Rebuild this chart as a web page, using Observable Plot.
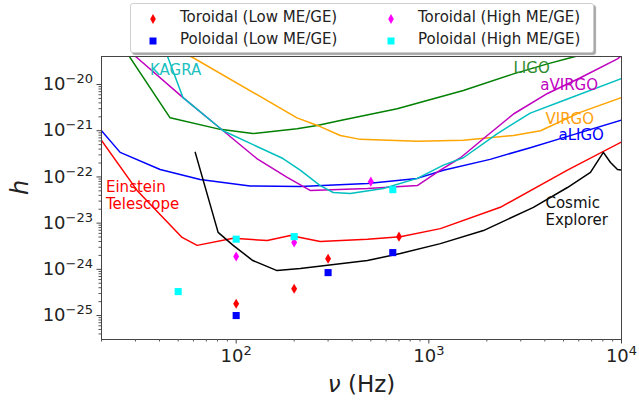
<!DOCTYPE html>
<html><head><meta charset="utf-8">
<script src="https://cdn.jsdelivr.net/npm/d3@7"></script>
<script src="https://cdn.jsdelivr.net/npm/@observablehq/plot@0.6"></script>
<style>
body{margin:0;background:#fff;font-family:"DejaVu Sans",sans-serif;}
#wrap{position:relative;width:639px;height:403px;overflow:hidden;}
#legend{position:absolute;left:130px;top:3px;width:464px;height:50px;box-sizing:border-box;border:1px solid #cfcfcf;border-radius:3px;background:#fff;box-shadow:2px 2px 1px rgba(0,0,0,0.35);font-size:15px;color:#222;z-index:2;}
.mk{position:absolute;width:12px;height:12px;}
.lt{position:absolute;white-space:nowrap;line-height:18px;}
</style></head><body><div id="wrap"><div id="chart"></div><div id="legend"></div></div>
<script>
// ---- detector sensitivity curves (frequency Hz, strain h) ----
const ligoFreq = [26.8, 45.4, 82.6, 122, 207, 263, 347, 685, 1510, 2750, 4130, 5430, 6900];
const ligoH    = [5.2e-20, 1.9e-21, 1.07e-21, 8.7e-22, 1.1e-21, 1.3e-21, 1.66e-21, 3.0e-21, 7.4e-21, 1.7e-20, 2.8e-20, 3.8e-20, 4.9e-20];

const aligoFreq = [20, 25, 40.3, 65, 118, 215, 480, 871, 1190, 2080, 3360, 5000, 10000];
const aligoH    = [1.0e-21, 3.4e-22, 1.45e-22, 8.8e-23, 6.4e-23, 6.2e-23, 7.2e-23, 9.3e-23, 1.4e-22, 2.4e-22, 4.3e-22, 7.1e-22, 1.7e-21];

const virgoFreq = [50, 59.8, 207, 273, 347, 441, 871, 1510, 2750, 3800, 6100, 10000];
const virgoH    = [5.5e-20, 3.8e-20, 1.9e-21, 1.23e-21, 7.9e-22, 6.5e-22, 5.9e-22, 6.2e-22, 7.9e-22, 1.0e-21, 2.5e-21, 5.2e-21];

const avirgoFreq = [27.8, 30.6, 53, 85.6, 128, 184, 242, 480, 871, 1148, 1460, 2010, 2750, 4130, 6120, 9530, 10000];
const avirgoH    = [5.2e-20, 3.8e-20, 5.2e-21, 1.0e-21, 2.5e-22, 9.8e-23, 5.1e-23, 5.6e-23, 6.5e-23, 1.4e-22, 2.6e-22, 7.9e-22, 2.3e-21, 6.4e-21, 1.4e-20, 3.6e-20, 4.2e-20];

const kagraFreq = [42.8, 44.3, 53, 85.6, 175, 215, 273, 319, 391, 580, 871, 1190, 1510, 2270, 3360, 5000, 10000];
const kagraH    = [5.5e-20, 3.8e-20, 5.2e-21, 1.0e-21, 2.5e-22, 1.4e-22, 6.5e-23, 4.6e-23, 4.4e-23, 5.6e-23, 9.3e-23, 1.8e-22, 2.6e-22, 8.7e-22, 2.4e-21, 4.5e-21, 1.35e-20];

const etFreq = [20, 30.6, 52.4, 62.7, 96.5, 145, 191, 273, 480, 711, 1148, 2350, 5240, 10000];
const etH    = [6.2e-22, 5.1e-23, 4.9e-24, 3.3e-24, 4.7e-24, 4.2e-24, 5.4e-24, 4.0e-24, 4.5e-24, 5.1e-24, 7.6e-24, 2.2e-23, 1.4e-22, 5.7e-22];

const ceFreq = [61.3, 80.6, 96.5, 122, 163, 215, 480, 711, 1148, 1920, 3490, 5240, 6900, 8050, 8770, 9530, 10000];
const ceH    = [3.4e-22, 6.3e-24, 3.3e-24, 1.55e-24, 9.4e-25, 1.04e-24, 1.55e-24, 2.2e-24, 3.6e-24, 6.9e-24, 2.2e-23, 5.9e-23, 1.25e-22, 3.4e-22, 2.05e-22, 1.45e-22, 1.4e-22];

// ---- model points ----
const torLowFreq  = [100, 200, 300, 700];
const torLowH     = [1.8e-25, 3.8e-25, 1.7e-24, 5.1e-24];
const polLowFreq  = [100, 300, 650];
const polLowH     = [1.0e-25, 8.5e-25, 2.3e-24];
const torHighFreq = [100, 200, 500];
const torHighH    = [1.9e-24, 3.8e-24, 7.9e-23];
const polHighFreq = [50, 100, 200, 650];
const polHighH    = [3.3e-25, 4.5e-24, 5.1e-24, 5.3e-23];

// ---- curve labels ----
const labelText = ["KAGRA", "LIGO", "aVIRGO", "VIRGO", "aLIGO", "Einstein\nTelescope", "Cosmic\nExplorer"];
const labelFreq = [35.7, 2750, 3790, 4030, 4710, 21.1, 4030];
const labelH    = [2.1e-20, 2.3e-20, 1.0e-20, 1.84e-21, 8.3e-22, 4.1e-23, 1.8e-23];
const labelColor = ["#20bfbf", "#2e8b2e", "#bf00bf", "#ff9f0f", "#0000ff", "#ff0000", "#111111"];

// ---- ticks ----
const xMajor = [100, 1000, 10000];
const yMajor = [1e-25, 1e-24, 1e-23, 1e-22, 1e-21, 1e-20];
const xMinor = [], yMinor = [];
for (let k = 1; k <= 3; k++) for (let m = 2; m <= 9; m++) { const v = m * 10 ** k; if (v >= 20 && v < 10000) xMinor.push(v); }
for (let k = -26; k <= -21; k++) for (let m = 2; m <= 9; m++) { const v = m * 10 ** k; if (v >= 3.03e-26 && v <= 4.04e-20) yMinor.push(v); }

const toRows = (f, h) => f.map((v, i) => ({f: v, h: h[i]}));
const curves = [
  {f: ligoFreq, h: ligoH, c: "#008000"},
  {f: aligoFreq, h: aligoH, c: "#0000ff"},
  {f: virgoFreq, h: virgoH, c: "#ffa500"},
  {f: avirgoFreq, h: avirgoH, c: "#bf00bf"},
  {f: kagraFreq, h: kagraH, c: "#00bfbf"},
  {f: etFreq, h: etH, c: "#ff0000"},
  {f: ceFreq, h: ceH, c: "#000000"}
];
const labels = labelText.map((t, i) => ({t, f: labelFreq[i], h: labelH[i], c: labelColor[i]}));

const thinDiamond = {draw(ctx, size) { const r = Math.sqrt(size / Math.PI); const h = r * 1.05, w = r * 0.62; ctx.moveTo(0, -h); ctx.lineTo(w, 0); ctx.lineTo(0, h); ctx.lineTo(-w, 0); ctx.closePath(); }};

const chart = Plot.plot({
  width: 639, height: 403,
  marginLeft: 101, marginRight: 18, marginTop: 56, marginBottom: 64,
  style: {fontFamily: "DejaVu Sans", fontSize: "18px", color: "#222", background: "#fff"},
  x: {type: "log", domain: [20, 10000], label: null},
  y: {type: "log", domain: [3.03e-26, 4.04e-20], label: null},
  marks: [
    ...curves.map(c => Plot.line(toRows(c.f, c.h), {x: "f", y: "h", stroke: c.c, strokeWidth: 1.5, clip: true})),
    Plot.dot(toRows(torLowFreq, torLowH), {x: "f", y: "h", symbol: thinDiamond, fill: "#ff0000", r: 4.8}),
    Plot.dot(toRows(polLowFreq, polLowH), {x: "f", y: "h", symbol: "square", fill: "#0000ff", r: 4}),
    Plot.dot(toRows(torHighFreq, torHighH), {x: "f", y: "h", symbol: thinDiamond, fill: "#ff00ff", r: 4.8}),
    Plot.dot(toRows(polHighFreq, polHighH), {x: "f", y: "h", symbol: "square", fill: "#00ffff", r: 4}),
    Plot.text(labels, {x: "f", y: "h", text: "t", fill: "c", textAnchor: "start", fontSize: 15, lineHeight: 1.13}),
    Plot.frame({stroke: "#444", strokeWidth: 1}),
    Plot.axisX(xMinor, {tickSize: 2.5, fill: "none", stroke: "#555", label: null}),
    Plot.axisY(yMinor, {tickSize: 2.5, fill: "none", stroke: "#555", label: null}),
    Plot.axisX(xMajor, {tickSize: 4.5, tickPadding: 5, stroke: "#444", fill: "#222", label: null, tickFormat: d => "10^" + Math.round(Math.log10(d))}),
    Plot.axisY(yMajor, {tickSize: 4.5, tickPadding: 4, stroke: "#444", fill: "#222", label: null, tickFormat: d => "10^" + Math.round(Math.log10(d))}),
    Plot.text(["h"], {frameAnchor: "left", dx: -81, dy: -3, rotate: -90, fontSize: 24, fontStyle: "italic", fill: "#222"}),
    Plot.text(["ν (Hz)"], {frameAnchor: "bottom", dy: 45, lineAnchor: "middle", fontSize: 23, fill: "#222"})
  ]
});
document.getElementById("chart").appendChild(chart);

// superscript exponents on tick labels, italic nu
d3.select(chart).selectAll("text").each(function() {
  const el = this;
  if (el.querySelector("tspan")) return;
  const s = el.textContent;
  const m = /^10\^(-?\d+)$/.exec(s);
  if (m) {
    const exp = m[1].replace("-", "\u2212");
    el.textContent = "10";
    const ts = document.createElementNS("http://www.w3.org/2000/svg", "tspan");
    ts.setAttribute("dy", "-7");
    ts.setAttribute("font-size", "13px");
    ts.textContent = exp;
    el.appendChild(ts);
  } else if (s === "ν (Hz)") {
    el.textContent = "";
    const a = document.createElementNS("http://www.w3.org/2000/svg", "tspan");
    a.setAttribute("font-style", "italic"); a.textContent = "ν";
    const b = document.createElementNS("http://www.w3.org/2000/svg", "tspan");
    b.textContent = " (Hz)";
    el.appendChild(a); el.appendChild(b);
  }
});

// legend
const legendItems = [
  {label: "Toroidal (Low ME/GE)", color: "#ff0000", shape: "d", col: 0, row: 0},
  {label: "Poloidal (Low ME/GE)", color: "#0000ff", shape: "s", col: 0, row: 1},
  {label: "Toroidal (High ME/GE)", color: "#ff00ff", shape: "d", col: 1, row: 0},
  {label: "Poloidal (High ME/GE)", color: "#00ffff", shape: "s", col: 1, row: 1}
];
const leg = document.getElementById("legend");
legendItems.forEach(it => {
  const mx = it.col ? 260 : 22, tx = it.col ? 287 : 49, cy = it.row ? 35 : 13;
  const mk = document.createElement("div");
  mk.className = "mk"; mk.style.left = (mx - 6) + "px"; mk.style.top = (cy - 6) + "px";
  mk.innerHTML = it.shape === "d"
    ? `<svg width="12" height="12"><path d="M6,1 L8.8,6 L6,11 L3.2,6Z" fill="${it.color}"/></svg>`
    : `<svg width="12" height="12"><rect x="2.5" y="2.5" width="7" height="7" fill="${it.color}"/></svg>`;
  leg.appendChild(mk);
  const t = document.createElement("div");
  t.className = "lt"; t.style.left = tx + "px"; t.style.top = (cy - 9) + "px";
  t.textContent = it.label;
  leg.appendChild(t);
});
</script></body></html>
